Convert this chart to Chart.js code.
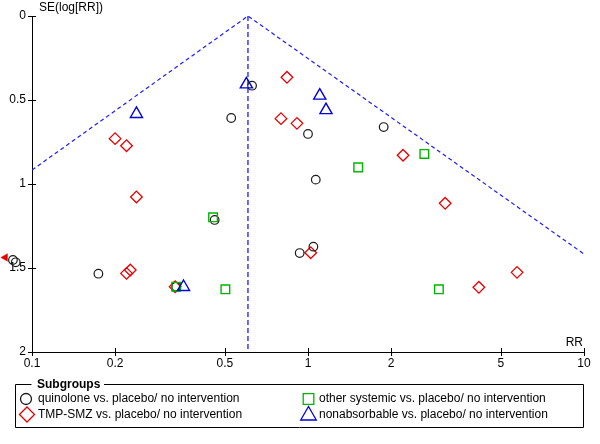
<!DOCTYPE html>
<html>
<head>
<meta charset="utf-8">
<title>Funnel plot</title>
<script src="https://cdn.jsdelivr.net/npm/chart.js@4.4.0/dist/chart.umd.min.js"></script>
<style>
  body { margin: 0; background: #fff; }
  #wrap { width: 600px; height: 444px; }
</style>
</head>
<body>
<div id="wrap"><canvas id="funnelChart" width="600" height="444"></canvas></div>
<script>
// Funnel plot data (RR on log scale, SE(log[RR]) on reversed y axis)
const xTicks = [0.1, 0.2, 0.5, 1, 2, 5, 10];
const yTicks = [0, 0.5, 1, 1.5, 2];

const quinoloneRR = [0.627, 0.527, 1.00, 1.88, 1.067, 0.459, 0.0853, 0.0873, 0.174, 0.933, 1.046, 0.333];
const quinoloneSE = [0.415, 0.607, 0.702, 0.661, 0.974, 1.214, 1.452, 1.466, 1.534, 1.411, 1.373, 1.611];

const tmpsmzRR = [0.839, 0.798, 0.912, 0.200, 0.220, 0.239, 2.21, 3.14, 0.220, 0.227, 1.023, 4.16, 5.72, 0.330];
const tmpsmzSE = [0.365, 0.611, 0.639, 0.730, 0.772, 1.077, 0.829, 1.115, 1.532, 1.512, 1.409, 1.615, 1.526, 1.612];

const otherRR = [1.52, 2.64, 0.453, 0.333, 0.502, 2.98];
const otherSE = [0.901, 0.821, 1.198, 1.611, 1.627, 1.627];

const nonabsRR = [0.239, 0.598, 1.103, 1.162, 0.354];
const nonabsSE = [0.583, 0.407, 0.474, 0.560, 1.613];

// study off the scale (RR < 0.1), shown as an arrow at the left edge
const offScaleRR = [0.08];
const offScaleSE = [1.4375];

// pooled estimate and 95% pseudo confidence limits
const pooledRR = 0.606;
const funnelRR = [0.1, pooledRR, 10];
const funnelSE = [0.917, 0, 1.417];
const pooledLineSE = [0, 2];

const groupNames = [
    'quinolone vs. placebo/ no intervention',
    'TMP-SMZ vs. placebo/ no intervention',
    'other systemic vs. placebo/ no intervention',
    'nonabsorbable vs. placebo/ no intervention'
];

const colQuin = '#1a1a1a';
const colTmp = '#e60000';
const colOther = '#00b400';
const colNon = '#0000d8';
const colFunnel = '#1c1cff';

function toPoints(xs, ys) {
    return xs.map((x, i) => ({ x: x, y: ys[i] }));
}

Chart.defaults.font.family = '"Liberation Sans", Arial, sans-serif';
Chart.defaults.font.size = 12;
Chart.defaults.color = '#000';

function markerStyle(style, radius, color, width, rotation) {
    return {
        pointStyle: style,
        pointRadius: radius,
        pointHoverRadius: radius,
        pointBorderColor: color,
        pointBackgroundColor: 'rgba(0,0,0,0)',
        pointBorderWidth: width,
        pointRotation: rotation || 0,
        showLine: false,
        clip: false
    };
}

// Axis tick marks crossing the axes, axis captions and the subgroup legend
const funnelExtras = {
    id: 'funnelExtras',
    afterDatasetsDraw(chart) {
        // Chart.js skips points left of the plot area; the reference still shows them
        const ctx = chart.ctx;
        const area = chart.chartArea;
        ctx.save();
        chart.data.datasets.forEach((ds, i) => {
            const meta = chart.getDatasetMeta(i);
            if (meta.type !== 'scatter') return;
            meta.data.forEach(el => {
                const o = el.options;
                if (el.x >= area.left - o.radius || o.radius <= 0) return;
                ctx.strokeStyle = o.borderColor;
                ctx.fillStyle = o.backgroundColor;
                ctx.lineWidth = o.borderWidth;
                Chart.helpers.drawPoint(ctx, o, el.x, el.y);
            });
        });
        ctx.restore();
    },
    afterDraw(chart) {
        const ctx = chart.ctx;
        const xs = chart.scales.x;
        const ys = chart.scales.y;
        const area = chart.chartArea;

        ctx.save();
        ctx.strokeStyle = '#000';
        ctx.lineWidth = 1;
        ctx.beginPath();
        xTicks.forEach(v => {
            const px = Math.round(xs.getPixelForValue(v)) + 0.5;
            ctx.moveTo(px, area.bottom - 4);
            ctx.lineTo(px, area.bottom + 4);
        });
        yTicks.forEach(v => {
            const py = Math.round(ys.getPixelForValue(v)) + 0.5;
            ctx.moveTo(area.left - 4, py);
            ctx.lineTo(area.left + 4, py);
        });
        ctx.stroke();

        ctx.fillStyle = '#000';
        ctx.font = '12px "Liberation Sans", Arial, sans-serif';
        ctx.textBaseline = 'middle';
        ctx.textAlign = 'left';
        ctx.fillText('SE(log[RR])', area.left + 7, 8);
        ctx.textAlign = 'right';
        ctx.fillText('RR', area.right - 1, area.bottom - 9);

        // legend box
        const bx = 15.5, by = 384.5, bw = 568, bh = 43;
        ctx.beginPath();
        ctx.moveTo(bx + 16, by);
        ctx.lineTo(bx, by);
        ctx.lineTo(bx, by + bh);
        ctx.lineTo(bx + bw, by + bh);
        ctx.lineTo(bx + bw, by);
        ctx.lineTo(104, by);
        ctx.stroke();
        ctx.font = 'bold 12px "Liberation Sans", Arial, sans-serif';
        ctx.textAlign = 'left';
        ctx.fillText('Subgroups', 37, by);

        const items = [
            { name: groupNames[0], style: 'circle', r: 5.5, color: colQuin, x: 26, y: 399, ty: 399 },
            { name: groupNames[1], style: 'rectRot', r: 7.5, color: colTmp, x: 27, y: 414.5, ty: 414.5 },
            { name: groupNames[2], style: 'rect', r: 7.5, color: colOther, x: 308.5, y: 399, ty: 399 },
            { name: groupNames[3], style: 'triangle', r: 9, color: colNon, x: 308.5, y: 415.5, ty: 414.5 }
        ];
        ctx.font = '12px "Liberation Sans", Arial, sans-serif';
        items.forEach(it => {
            ctx.strokeStyle = it.color;
            ctx.lineWidth = 1.3;
            ctx.fillStyle = 'rgba(0,0,0,0)';
            Chart.helpers.drawPoint(ctx, {
                pointStyle: it.style, radius: it.r, rotation: 0, borderWidth: 1.3
            }, it.x, it.y);
            ctx.fillStyle = '#000';
            ctx.fillText(it.name, it.x < 100 ? 38 : 319, it.ty);
        });
        ctx.restore();
    }
};

const funnelChart = new Chart(document.getElementById('funnelChart'), {
    type: 'scatter',
    data: {
        datasets: [
            Object.assign({ label: groupNames[3], data: toPoints(nonabsRR, nonabsSE) },
                markerStyle('triangle', 7, colNon, 1.4)),
            Object.assign({ label: groupNames[2], data: toPoints(otherRR, otherSE) },
                markerStyle('rect', 6.1, colOther, 1.4)),
            Object.assign({ label: groupNames[0], data: toPoints(quinoloneRR, quinoloneSE) },
                markerStyle('circle', 4.3, colQuin, 1.2)),
            Object.assign({ label: groupNames[1], data: toPoints(tmpsmzRR, tmpsmzSE) },
                markerStyle('rectRot', 5.8, colTmp, 1.3)),
            {
                label: 'off scale',
                data: toPoints(offScaleRR, offScaleSE),
                pointStyle: 'triangle',
                pointRotation: -90,
                pointRadius: 4.4,
                pointBorderWidth: 0.5,
                pointBackgroundColor: colTmp,
                pointBorderColor: colTmp,
                showLine: false,
                clip: false
            },
            {
                label: 'funnel',
                type: 'line',
                data: toPoints(funnelRR, funnelSE),
                borderColor: colFunnel,
                borderWidth: 1.2,
                borderDash: [4, 3],
                pointRadius: 0,
                fill: false,
                tension: 0
            },
            {
                label: 'pooled',
                type: 'line',
                data: toPoints([pooledRR, pooledRR], pooledLineSE),
                borderColor: colFunnel,
                borderWidth: 1.3,
                borderDash: [5, 3],
                pointRadius: 0,
                fill: false
            }
        ]
    },
    options: {
        responsive: false,
        animation: false,
        events: [],
        layout: { padding: { top: 16, right: 16, bottom: 72, left: 0 } },
        plugins: {
            legend: { display: false },
            tooltip: { enabled: false }
        },
        scales: {
            x: {
                type: 'logarithmic',
                position: 'bottom',
                min: 0.1,
                max: 10,
                afterBuildTicks: s => { s.ticks = xTicks.map(v => ({ value: v })); },
                afterFit: s => { s.height = 20; },
                grid: { display: false, drawTicks: false },
                border: { display: true, color: '#000', width: 1 },
                ticks: {
                    autoSkip: false,
                    maxRotation: 0,
                    padding: 4,
                    color: '#000',
                    callback: v => String(v)
                }
            },
            y: {
                type: 'linear',
                position: 'left',
                reverse: true,
                min: 0,
                max: 2,
                afterBuildTicks: s => { s.ticks = yTicks.map(v => ({ value: v })); },
                afterFit: s => { s.width = 32; },
                grid: { display: false, drawTicks: false },
                border: { display: true, color: '#000', width: 1 },
                ticks: {
                    padding: 6,
                    color: '#000',
                    callback: v => String(v)
                }
            }
        }
    },
    plugins: [funnelExtras]
});
</script>
</body>
</html>
